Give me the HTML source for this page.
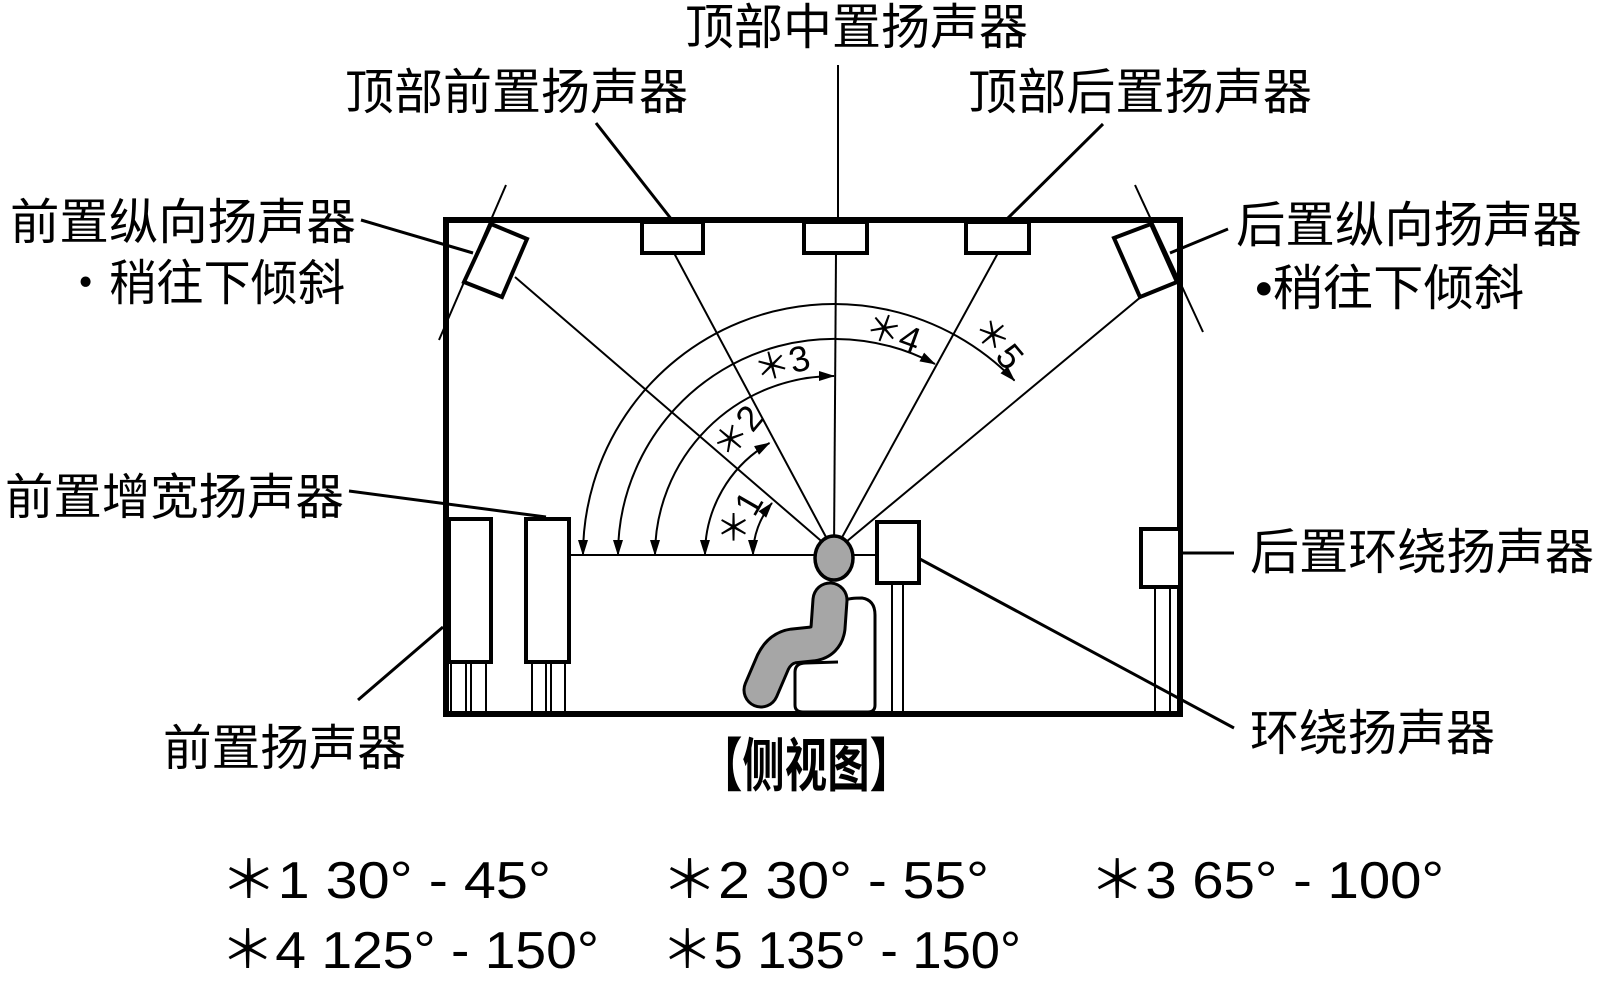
<!DOCTYPE html>
<html><head><meta charset="utf-8"><style>
html,body{margin:0;padding:0;background:#fff;}
svg{display:block;}
text{font-family:"Liberation Sans","Noto Sans CJK SC",sans-serif;fill:#000;}
</style></head><body>
<svg width="1623" height="985" viewBox="0 0 1623 985" xmlns="http://www.w3.org/2000/svg">
<defs>
<marker id="ah" viewBox="0 0 16 10" refX="15" refY="5" markerWidth="16" markerHeight="10" markerUnits="userSpaceOnUse" orient="auto-start-reverse">
<path d="M0,0 L16,5 L0,10 Z" fill="#000"/>
</marker>
</defs>

<g stroke="#000" stroke-width="2" fill="none">
<line x1="834" y1="552" x2="515" y2="277"/>
<line x1="834" y1="552" x2="674" y2="253"/>
<line x1="834" y1="552" x2="836" y2="253"/>
<line x1="834" y1="552" x2="998" y2="253"/>
<line x1="834" y1="552" x2="1160" y2="281"/>
<line x1="569" y1="555" x2="877" y2="555"/>
<line x1="838" y1="65" x2="838" y2="222"/>
<line x1="506" y1="185" x2="439" y2="340"/>
<line x1="1135" y1="185" x2="1203" y2="332"/>
</g>

<g stroke="#000" stroke-width="2" fill="none" marker-start="url(#ah)" marker-end="url(#ah)">
<path d="M753,555 A81,81 0 0 1 772,503"/>
<path d="M705,555 A129,129 0 0 1 769.5,443"/>
<path d="M655,555 A179,179 0 0 1 834,376"/>
<path d="M618,555 A216,216 0 0 1 935,364"/>
<path d="M583,555 A251,251 0 0 1 1014.5,380.6"/>
</g>

<g stroke="#000" stroke-width="3" fill="none">
<line x1="596" y1="123" x2="672" y2="220"/>
<line x1="1103" y1="124" x2="1006" y2="220"/>
<line x1="361" y1="220" x2="473" y2="253"/>
<line x1="1228" y1="229" x2="1170" y2="253"/>
<line x1="349" y1="491" x2="546" y2="517"/>
<line x1="358" y1="700" x2="443" y2="627"/>
<line x1="1180" y1="553" x2="1234" y2="553"/>
<line x1="918" y1="558" x2="1234" y2="728"/>
</g>

<rect x="446" y="220" width="734" height="494" fill="none" stroke="#000" stroke-width="6"/>

<g fill="#fff" stroke="#000" stroke-width="4">
<rect x="642" y="222" width="61" height="31"/>
<rect x="804" y="222" width="63" height="31"/>
<rect x="966" y="222" width="63" height="31"/>
<polygon points="491,224 527,239 502,297 464,282"/>
<polygon points="1114,238 1151,224 1177,282 1140,297"/>
</g>

<g stroke="#000" stroke-width="2">
<line x1="451" y1="662" x2="451" y2="712"/><line x1="466" y1="662" x2="466" y2="712"/><line x1="471" y1="662" x2="471" y2="712"/><line x1="486" y1="662" x2="486" y2="712"/>
<line x1="532" y1="662" x2="532" y2="712"/><line x1="546" y1="662" x2="546" y2="712"/><line x1="551" y1="662" x2="551" y2="712"/><line x1="565" y1="662" x2="565" y2="712"/>
<line x1="892" y1="583" x2="892" y2="712"/><line x1="903" y1="583" x2="903" y2="712"/>
<line x1="1155" y1="587" x2="1155" y2="712"/><line x1="1170" y1="587" x2="1170" y2="712"/>
</g>
<g fill="#fff" stroke="#000" stroke-width="4">
<rect x="449" y="519" width="42" height="143"/>
<rect x="526" y="519" width="43" height="143"/>
<rect x="877" y="522" width="42" height="61"/>
<rect x="1141" y="529" width="39" height="58"/>
</g>

<path d="M845,600 Q850,598 862,598 Q875,600 875,615 L875,705 Q875,712 868,712 L803,712 Q795,712 795,705 L795,672 Q795,663 806,663 L838,662" fill="#fff" stroke="#000" stroke-width="3"/>
<path d="M830,600 L828,628 Q826,642 812,644 L793,646 Q780,648 773,662 L761,690" fill="none" stroke="#000" stroke-width="37" stroke-linecap="round" stroke-linejoin="round"/>
<path d="M830,600 L828,628 Q826,642 812,644 L793,646 Q780,648 773,662 L761,690" fill="none" stroke="#a6a6a6" stroke-width="31" stroke-linecap="round" stroke-linejoin="round"/>
<ellipse cx="834" cy="558" rx="19" ry="22" fill="#a6a6a6" stroke="#000" stroke-width="3.5"/>

<g font-size="36">
<text x="740" y="531" text-anchor="middle" transform="rotate(-60 740 519)">＊1</text>
<text x="738" y="444" text-anchor="middle" transform="rotate(-50 738 432)">＊2</text>
<text x="782" y="376" text-anchor="middle" transform="rotate(-15 782 364)">＊3</text>
<text x="893" y="345" text-anchor="middle" transform="rotate(20 893 333)">＊4</text>
<text x="998" y="355" text-anchor="middle" transform="rotate(50 998 343)">＊5</text>
</g>

<g font-size="49">
<text x="685" y="44" textLength="343" lengthAdjust="spacingAndGlyphs">顶部中置扬声器</text>
<text x="345" y="109" textLength="343" lengthAdjust="spacingAndGlyphs">顶部前置扬声器</text>
<text x="968" y="109" textLength="344" lengthAdjust="spacingAndGlyphs">顶部后置扬声器</text>
<text x="10" y="239" textLength="346" lengthAdjust="spacingAndGlyphs">前置纵向扬声器</text>
<text x="62" y="300" textLength="283" lengthAdjust="spacingAndGlyphs">・稍往下倾斜</text>
<text x="1236" y="242" textLength="346" lengthAdjust="spacingAndGlyphs">后置纵向扬声器</text>
<text x="1255" y="305" textLength="269" lengthAdjust="spacingAndGlyphs">•稍往下倾斜</text>
<text x="5" y="514" textLength="339" lengthAdjust="spacingAndGlyphs">前置增宽扬声器</text>
<text x="1250" y="569" textLength="344" lengthAdjust="spacingAndGlyphs">后置环绕扬声器</text>
<text x="163" y="765" textLength="243" lengthAdjust="spacingAndGlyphs">前置扬声器</text>
<text x="1250" y="750" textLength="245" lengthAdjust="spacingAndGlyphs">环绕扬声器</text>
<text x="700" y="786" font-size="58" font-weight="bold" textLength="212" lengthAdjust="spacingAndGlyphs">【侧视图】</text>
</g>

<g font-size="52">
<text x="220" y="898" textLength="331" lengthAdjust="spacingAndGlyphs">＊1 30°  - 45°</text>
<text x="661" y="898" textLength="328" lengthAdjust="spacingAndGlyphs">＊2 30°  - 55°</text>
<text x="1089" y="898" textLength="355" lengthAdjust="spacingAndGlyphs">＊3 65°  - 100°</text>
<text x="220" y="968" textLength="379" lengthAdjust="spacingAndGlyphs">＊4 125°  - 150°</text>
<text x="661" y="968" textLength="360" lengthAdjust="spacingAndGlyphs">＊5 135°  - 150°</text>
</g>
</svg>
</body></html>
